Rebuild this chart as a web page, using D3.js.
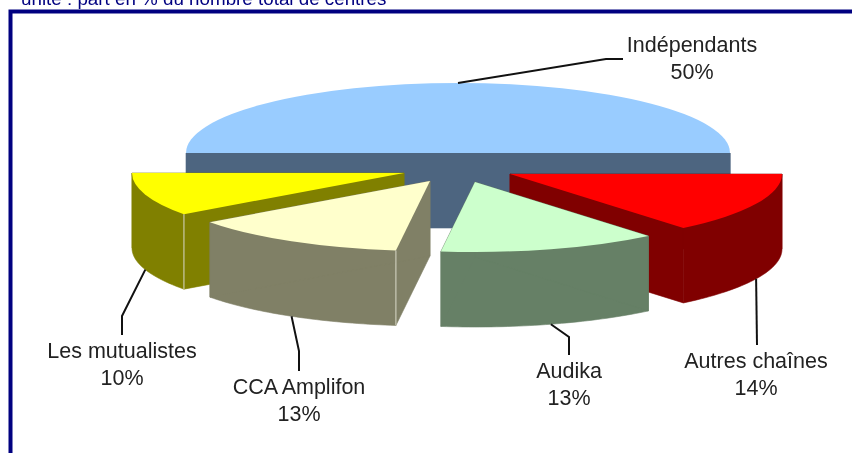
<!DOCTYPE html>
<html><head><meta charset="utf-8">
<script src="https://cdn.jsdelivr.net/npm/d3@7"></script>
<style>html,body{margin:0;padding:0;background:#fff;overflow:hidden}svg{display:block;filter:blur(0.4px)}
text{font-family:"Liberation Sans",Arial,sans-serif}</style></head>
<body><svg id="c" width="852" height="453"></svg>
<script>
const categories = ["Indépendants","Autres chaînes","Audika","CCA Amplifon","Les mutualistes"];
const values = [50,14,13,13,10];
const topColors = ["#99ccff","#ff0000","#ccffcc","#ffffcc","#ffff00"];
const sideColors = ["#4d6580","#800000","#668066","#808066","#808000"];
const subtitle = "unité : part en % du nombre total de centres";

// layout (not data)
const W=852,H=453, cx=458, cy=153, rx=272, ry=70, depth=75;
const explode=[[0,0],[52,21],[17,29],[-28,28],[-54,20]];
const elbows=[[[606,59],[623,59]],[[757,345]],[[569,337],[569,355]],[[299,351],[299,371]],[[122,316],[122,335]]];
const labelPos=[[692,52],[756,368],[569,378],[299,394],[122,358]];
const drawOrder=[0,4,1,3,2];

const svg=d3.select("#c");
svg.append("text").attr("x",21).attr("y",5).attr("fill","#000080")
  .attr("font-size",18.8).text(subtitle);
svg.append("path").attr("fill","none").attr("stroke","#000080").attr("stroke-width",4)
  .attr("d",`M10.5 ${H+5}V11.5H${W+5}`);

const arcs=d3.pie().sort(null).startAngle(-Math.PI/2).endAngle(1.5*Math.PI)(values);
const arcGen=d3.arc().innerRadius(0).outerRadius(rx);
const yRatio=ry/rx;
// pie angle: 0 at top, clockwise
const pt=(a,c)=>[c[0]+rx*Math.sin(a), c[1]-ry*Math.cos(a)];
const lineGen=d3.line();

drawOrder.forEach(i=>{
  const d=arcs[i], c=[cx+explode[i][0],cy+explode[i][1]];
  const g=svg.append("g");
  const side=sideColors[i];
  const wall=a=>{const p=pt(a,c);
    g.append("path").attr("fill",side).attr("stroke",side).attr("stroke-width",0.6)
     .attr("d",lineGen([c,p,[p[0],p[1]+depth],[c[0],c[1]+depth]])+"Z");};
  // outer wall: the front half of the rim only (pie angles 90deg..270deg)
  const a0=Math.max(d.startAngle,Math.PI/2), a1=Math.min(d.endAngle,1.5*Math.PI);
  if(a1>a0){
    const as=d3.range(0,41).map(k=>a0+(a1-a0)*k/40);
    const up=as.map(a=>pt(a,c));
    const dn=up.map(p=>[p[0],p[1]+depth]).reverse();
    g.append("path").attr("fill",side).attr("stroke",side).attr("stroke-width",0.6)
      .attr("d",lineGen(up.concat(dn))+"Z");
  }
  wall(d.startAngle); wall(d.endAngle);
  g.append("path").attr("fill",topColors[i])
    .attr("transform",`translate(${c[0]},${c[1]}) scale(1,${yRatio})`)
    .attr("d",arcGen(d));
  // pale seam at the corner of left-facing slices
  if(i===3||i===4){
    const p=pt(d.startAngle,c);
    g.append("line").attr("x1",p[0]).attr("x2",p[0]).attr("y1",p[1]).attr("y2",p[1]+depth)
      .attr("stroke","#d8d8c8").attr("stroke-width",1);
  }
});

arcs.forEach((d,i)=>{
  const mid=(d.startAngle+d.endAngle)/2, c=[cx+explode[i][0],cy+explode[i][1]];
  const s=pt(mid,c); if(Math.cos(mid)<0) s[1]+=depth;
  svg.append("path").attr("fill","none").attr("stroke","#111").attr("stroke-width",2)
    .attr("d",lineGen([s,...elbows[i]]));
  const t=svg.append("text").attr("text-anchor","middle").attr("fill","#222").attr("font-size",21.5);
  t.append("tspan").attr("x",labelPos[i][0]).attr("y",labelPos[i][1]).text(categories[i]);
  t.append("tspan").attr("x",labelPos[i][0]).attr("y",labelPos[i][1]+27).text(values[i]+"%");
});
</script></body></html>
